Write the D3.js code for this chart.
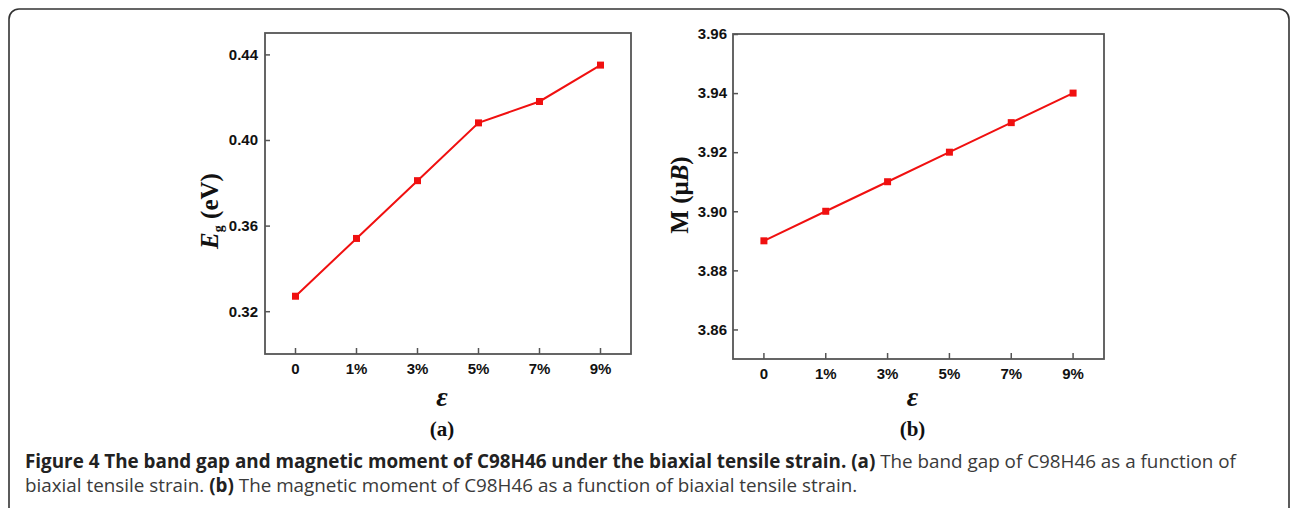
<!DOCTYPE html>
<html>
<head>
<meta charset="utf-8">
<script src="https://cdn.jsdelivr.net/npm/d3@7"></script>
<style>
  body { margin: 0; background: #fff; }
  svg { display: block; }
  .tick text { font-family: "Liberation Sans", Arial, sans-serif; font-weight: bold; font-size: 15px; fill: #111; }
  .tick line { stroke: #555; stroke-width: 1.5; }
</style>
</head>
<body>
<svg width="1292" height="508"></svg>
<script>
const w = 1292;
const h = 508;

// strain values on the x axis
const strainLabels = ["0", "1%", "3%", "5%", "7%", "9%"];
// (a) band gap, eV
const bandGap = [0.327, 0.354, 0.381, 0.408, 0.418, 0.435];
const bandGapTicks = [0.32, 0.36, 0.40, 0.44];
// (b) magnetic moment, muB
const moment = [3.89, 3.90, 3.91, 3.92, 3.93, 3.94];
const momentTicks = [3.86, 3.88, 3.90, 3.92, 3.94, 3.96];

const svg = d3.select("svg");

// rounded frame around the whole figure
svg.append("rect")
  .attr("x", 9).attr("y", 9)
  .attr("width", 1280).attr("height", 530)
  .attr("rx", 10)
  .attr("fill", "none")
  .attr("stroke", "#333")
  .attr("stroke-width", 1.6);

function drawPanel(p) {
  const x = d3.scaleBand().domain(strainLabels).range([p.left, p.right]);
  const y = d3.scaleLinear().domain(p.domain).range([p.bottom, p.top]);
  const cx = d => x(d) + x.bandwidth() / 2;

  const g = svg.append("g");

  g.append("g")
    .attr("transform", `translate(${p.left},0)`)
    .call(d3.axisLeft(y).tickValues(p.ticks).tickFormat(d3.format(".2f"))
      .tickSizeInner(-5).tickSizeOuter(0).tickPadding(p.pad))
    .call(a => a.select(".domain").remove());

  g.append("g")
    .attr("transform", `translate(0,${p.bottom})`)
    .call(d3.axisBottom(x).tickSizeInner(-6).tickSizeOuter(0).tickPadding(9))
    .call(a => a.select(".domain").remove());

  g.append("rect")
    .attr("x", p.left).attr("y", p.top)
    .attr("width", p.right - p.left).attr("height", p.bottom - p.top)
    .attr("fill", "none")
    .attr("stroke", "#555")
    .attr("stroke-width", 1.8);

  const line = d3.line()
    .x((d, i) => cx(strainLabels[i]))
    .y(d => y(d));

  g.append("path")
    .datum(p.values)
    .attr("d", line)
    .attr("fill", "none")
    .attr("stroke", "#f01010")
    .attr("stroke-width", 2);

  g.selectAll(".pt")
    .data(p.values)
    .enter().append("rect")
    .attr("class", "pt")
    .attr("x", (d, i) => cx(strainLabels[i]) - 3.5)
    .attr("y", d => y(d) - 3.5)
    .attr("width", 7).attr("height", 7)
    .attr("fill", "#f01010");

  // y title
  const yt = g.append("text")
    .attr("transform", `translate(${p.ytx},${p.yty}) rotate(-90)`)
    .attr("text-anchor", "middle")
    .attr("font-family", "'Liberation Serif', 'Times New Roman', serif")
    .attr("font-weight", "bold")
    .attr("font-size", 25)
    .attr("fill", "#111");
  p.ytitle(yt);

  const mid = (p.left + p.right) / 2 - 6;
  g.append("text")
    .attr("x", mid).attr("y", 406)
    .attr("text-anchor", "middle")
    .attr("font-family", "'Liberation Serif', 'Times New Roman', serif")
    .attr("font-style", "italic")
    .attr("font-weight", "bold")
    .attr("font-size", 28)
    .attr("fill", "#111")
    .text("ε");

  g.append("text")
    .attr("x", mid).attr("y", 436)
    .attr("text-anchor", "middle")
    .attr("font-family", "'Liberation Serif', 'Times New Roman', serif")
    .attr("font-weight", "bold")
    .attr("font-size", 21)
    .attr("fill", "#111")
    .text(p.tag);
}

drawPanel({
  left: 265, right: 631, top: 33, bottom: 354,
  domain: [0.30, 0.45], ticks: bandGapTicks, values: bandGap, pad: 7,
  ytx: 218, yty: 211, tag: "(a)",
  ytitle: t => {
    t.append("tspan").attr("font-style", "italic").text("E");
    t.append("tspan").attr("font-size", 14).attr("dy", 5).text("g");
    t.append("tspan").attr("dy", -5).text(" (eV)");
  }
});

drawPanel({
  left: 733, right: 1104, top: 34, bottom: 359,
  domain: [3.85, 3.96], ticks: momentTicks, values: moment, pad: 6,
  ytx: 688, yty: 195, tag: "(b)",
  ytitle: t => {
    t.append("tspan").text("M (μ");
    t.append("tspan").attr("font-style", "italic").text("B");
    t.append("tspan").text(")");
  }
});

// caption
const cap = svg.append("g")
  .attr("font-family", "'Open Sans', sans-serif")
  .attr("font-size", 16);

const l1 = cap.append("text").attr("x", 25).attr("y", 468);
l1.append("tspan").attr("font-weight", "bold").attr("fill", "#222")
  .text("Figure 4 The band gap and magnetic moment of C98H46 under the biaxial tensile strain. (a)");
l1.append("tspan").attr("fill", "#3a3a3a")
  .text(" The band gap of C98H46 as a function of");

const l2 = cap.append("text").attr("x", 25).attr("y", 492);
l2.append("tspan").attr("fill", "#3a3a3a").text("biaxial tensile strain. ");
l2.append("tspan").attr("font-weight", "bold").attr("fill", "#222").text("(b)");
l2.append("tspan").attr("fill", "#3a3a3a")
  .text(" The magnetic moment of C98H46 as a function of biaxial tensile strain.");

// fit the first caption line to the width it has in the figure
const len = l1.node().getComputedTextLength();
cap.attr("font-size", 16 * 1212 / len);
</script>
</body>
</html>
